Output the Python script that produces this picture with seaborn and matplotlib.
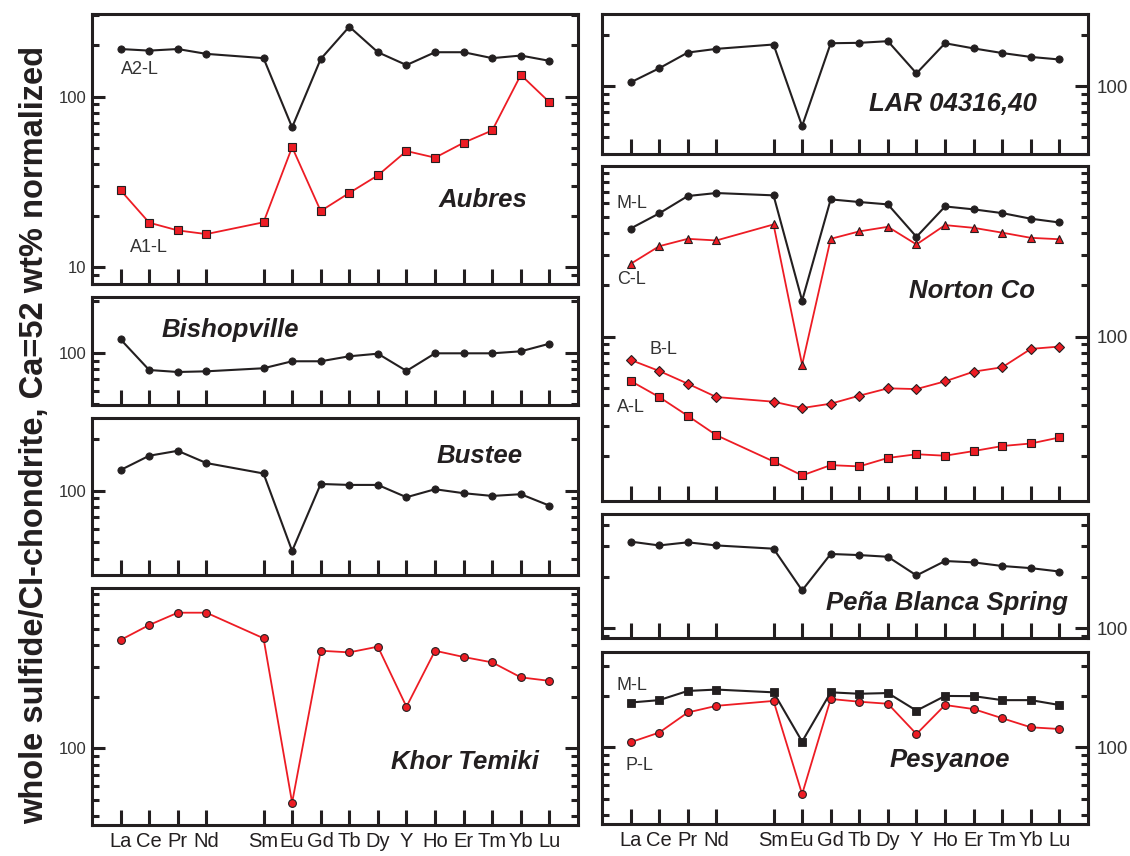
import numpy as np
import pandas as pd
import matplotlib
matplotlib.use("Agg")
import matplotlib.pyplot as plt
import seaborn as sns
from matplotlib.ticker import LogLocator, FuncFormatter, NullFormatter, FixedLocator
from matplotlib import font_manager

sns.set_style("ticks")
plt.rcParams["font.family"] = ["Liberation Sans", "DejaVu Sans"]

# ---------------- data ----------------
ree_order = ["La", "Ce", "Pr", "Nd", "Pm", "Sm", "Eu", "Gd", "Tb", "Dy", "Y",
             "Ho", "Er", "Tm", "Yb", "Lu"]
elements = ["La", "Ce", "Pr", "Nd", "Sm", "Eu", "Gd", "Tb", "Dy", "Y",
            "Ho", "Er", "Tm", "Yb", "Lu"]

aubres_a2l = [190, 186, 190, 178, 168, 66, 166, 257, 182, 153, 182, 182, 168, 174, 162]
aubres_a1l = [28.2, 18.2, 16.4, 15.6, 18.3, 50.5, 21.3, 27.2, 34.5, 47.9, 43.8, 53.6, 63.3, 134, 92.7]
bishopville = [119.7, 79.2, 77.1, 77.8, 81.1, 89.1, 89.1, 95.3, 98.7, 78.2, 99.2, 99.2, 99.2, 101.9, 112.9]
bustee = [132, 160, 171, 145, 126, 44.4, 109.4, 108, 108, 91.5, 101.9, 96.6, 93.1, 95.3, 81.7]
khor_temiki = [430, 526, 621, 621, 440, 48.1, 372, 364, 393, 175, 372, 342, 318, 260, 248]
lar04316 = [105, 127, 157, 165, 175, 58.3, 178, 179, 183, 118.6, 178, 166, 156, 148, 143]
norton_ml = [426, 522, 659, 686, 665, 162, 630, 608, 589, 381, 573, 551, 524, 486, 462]
norton_cl = [265, 336, 371, 363, 450, 68.4, 371, 410, 436, 344, 446, 430, 403, 376, 369]
norton_bl = [73.1, 63.0, 53.1, 44.4, 41.7, 38.3, 40.6, 45.2, 49.9, 49.4, 54.8, 62.4, 66.2, 84.7, 87.4]
norton_al = [55.1, 44.4, 34.5, 26.6, 18.7, 15.5, 17.8, 17.5, 19.6, 20.6, 20.2, 21.5, 23.0, 23.8, 25.8]
pena_blanca = [320, 304, 317, 304, 291, 166, 271, 267, 261, 203, 246.5, 242, 230.5, 224, 214]
pesyanoe_ml = [183, 189, 214, 218, 210, 108, 210, 206, 208, 164, 200, 199.5, 189, 189, 177]
pesyanoe_pl = [107, 122, 160, 175, 187, 53.1, 192, 185, 180, 119.6, 177, 167.5, 148, 131, 128]

ylabel_text = "whole sulfide/CI-chondrite, Ca=52 wt% normalized"

# ---------------- styles ----------------
W, H = 1130, 856
DARK = "#231f20"
RED = "#ed1c24"
BLACK_S = dict(color=DARK, marker="o", markersize=5.2, markerfacecolor=DARK,
               markeredgecolor=DARK, markeredgewidth=0.6, linewidth=1.5)
RED_SQ = dict(color=RED, marker="s", markersize=5.2, markerfacecolor=RED,
              markeredgecolor=DARK, markeredgewidth=0.8, linewidth=1.3)
RED_CI = dict(color=RED, marker="o", markersize=5.6, markerfacecolor=RED,
              markeredgecolor=DARK, markeredgewidth=0.8, linewidth=1.3)
RED_TR = dict(color=RED, marker="^", markersize=6.2, markerfacecolor=RED,
              markeredgecolor=DARK, markeredgewidth=0.8, linewidth=1.3)
RED_DI = dict(color=RED, marker="D", markersize=5.0, markerfacecolor=RED,
              markeredgecolor=DARK, markeredgewidth=0.8, linewidth=1.3)
BLACK_SQ = dict(color=DARK, marker="s", markersize=6.4, markerfacecolor=DARK,
                markeredgecolor=DARK, markeredgewidth=0.6, linewidth=1.5)

xpos = [ree_order.index(e) for e in elements]

fig = plt.figure(figsize=(W / 100, H / 100), dpi=100)


def make_ax(x0, y0, x1, y1):
    return fig.add_axes([x0 / W, 1 - y1 / H, (x1 - x0) / W, (y1 - y0) / H])


def style_ax(ax, ylim, side, show_x):
    ax.set_yscale("log")
    ax.set_ylim(*ylim)
    ax.set_xlim(-1, 16)
    ax.xaxis.set_major_locator(FixedLocator(xpos))
    ax.set_xticklabels(elements if show_x else [])
    ax.yaxis.set_major_locator(LogLocator(base=10))
    ax.yaxis.set_minor_locator(LogLocator(base=10, subs=np.arange(2, 10)))
    ax.yaxis.set_major_formatter(FuncFormatter(lambda v, p: f"{v:g}"))
    ax.yaxis.set_minor_formatter(NullFormatter())
    for sp in ax.spines.values():
        sp.set_linewidth(2.2)
        sp.set_color(DARK)
        sp.set_visible(True)
    ax.tick_params(axis="x", which="major", direction="in", length=10.5, width=2.2,
                   color=DARK, top=False, bottom=True, labelsize=14.5,
                   labelcolor=DARK, pad=5)
    ax.tick_params(axis="x", which="minor", bottom=False, top=False)
    if side == "left":
        ax.tick_params(axis="y", which="both", direction="in", left=True, right=True,
                       labelleft=True, labelright=False, width=2.2, color=DARK,
                       labelsize=12, labelcolor="#333333", pad=4)
    else:
        ax.tick_params(axis="y", which="both", direction="in", left=True, right=True,
                       labelleft=False, labelright=True, width=2.2, color=DARK,
                       labelsize=13.5, labelcolor="#333333", pad=6)
    ax.tick_params(axis="y", which="major", length=9.5)
    ax.tick_params(axis="y", which="minor", length=5)
    ax.set_xlabel("")
    ax.set_ylabel("")
    ax.grid(False)
    if ax.get_legend() is not None:
        ax.get_legend().remove()


def draw(ax, values, style):
    df = pd.DataFrame({"pos": xpos, "val": values})
    sns.lineplot(data=df, x="pos", y="val", ax=ax, legend=False, **style)


panels = [
    # (box px, ylim, side, show x labels, series, name, name position px)
    ((92, 14, 578, 284), (7.95, 305), "left", False,
     [(aubres_a2l, BLACK_S), (aubres_a1l, RED_SQ)], "Aubres", (483, 200)),
    ((92, 297, 578, 405), (49.4, 212), "left", False,
     [(bishopville, BLACK_S)], "Bishopville", (230, 330)),
    ((92, 418, 578, 575), (32.1, 266), "left", False,
     [(bustee, BLACK_S)], "Bustee", (480, 456)),
    ((92, 588, 578, 825), (35.6, 866), "left", True,
     [(khor_temiki, RED_CI)], "Khor Temiki", (465, 762)),
    ((602, 14, 1088, 154), (40, 264), "right", False,
     [(lar04316, BLACK_S)], "LAR 04316,40", (953, 104)),
    ((602, 166, 1088, 501), (11, 986), "right", False,
     [(norton_ml, BLACK_S), (norton_cl, RED_TR), (norton_bl, RED_DI), (norton_al, RED_SQ)],
     "Norton Co", (972, 291)),
    ((602, 514, 1088, 638), (87.5, 464), "right", False,
     [(pena_blanca, BLACK_S)], "Peña Blanca Spring", (947, 603)),
    ((602, 652, 1088, 824), (35.5, 362), "right", True,
     [(pesyanoe_ml, BLACK_SQ), (pesyanoe_pl, RED_CI)], "Pesyanoe", (950, 760)),
]

for box, ylim, side, show_x, series, name, npos in panels:
    ax = make_ax(*box)
    for vals, st in series:
        draw(ax, vals, st)
    style_ax(ax, ylim, side, show_x)
    fig.text(npos[0] / W, 1 - npos[1] / H, name, ha="center", va="center",
             fontsize=18.5, fontweight="bold", fontstyle="italic", color=DARK)

# series labels
series_labels = [
    ("A2-L", 140, 69), ("A1-L", 149, 248),
    ("M-L", 632, 204), ("C-L", 631, 279), ("B-L", 663, 350), ("A-L", 631, 407),
    ("M-L", 632, 685), ("P-L", 639, 765),
]
for txt, px, py in series_labels:
    fig.text(px / W, 1 - py / H, txt, ha="center", va="center", fontsize=13,
             color="#333333")

names = {f.name for f in font_manager.fontManager.ttflist}
if "Liberation Sans Narrow" in names:
    yl_family, yl_size = ["Liberation Sans Narrow", "DejaVu Sans"], 27
else:
    yl_family, yl_size = ["Liberation Sans", "DejaVu Sans"], 23.5
fig.text(35 / W, 1 - 435 / H, ylabel_text, rotation=90, ha="center", va="center",
         fontsize=yl_size, fontweight="bold", color=DARK, family=yl_family)

fig.savefig("out.png", dpi=100, facecolor="white")
